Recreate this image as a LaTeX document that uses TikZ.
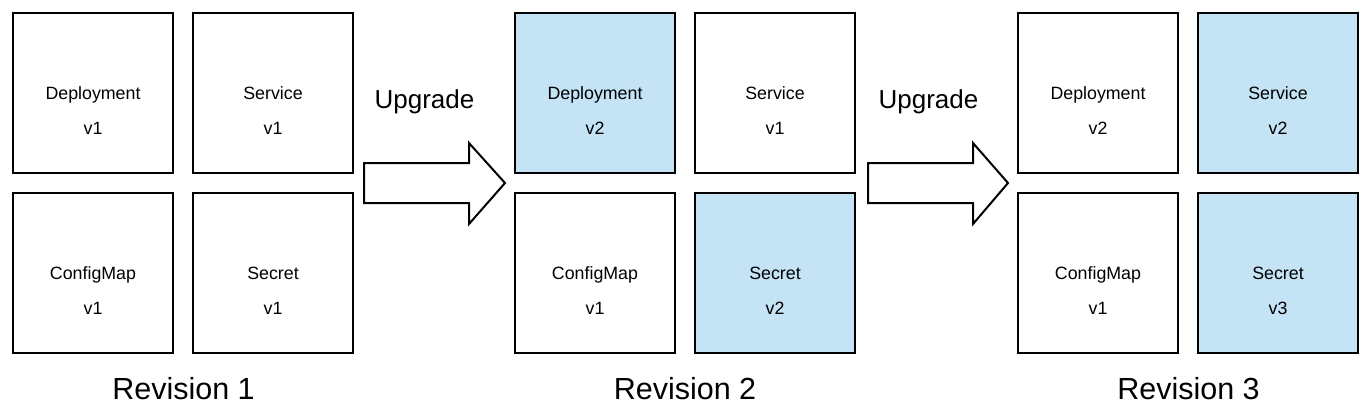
\documentclass[tikz,border=0pt]{standalone}
\usepackage{fontspec}
\setmainfont{Liberation Sans}
\definecolor{upd}{HTML}{C4E3F5}
\begin{document}
\begin{tikzpicture}[x=1bp,y=-1bp,
  box/.style={draw=black,line width=2bp,minimum width=160bp,minimum height=160bp,inner sep=0pt,fill=white},
  newbox/.style={box,fill=upd},
  txt/.style={anchor=base,inner sep=0pt,font=\fontsize{17.8bp}{20bp}\selectfont},
  upg/.style={anchor=base,inner sep=0pt,font=\fontsize{26bp}{30bp}\selectfont},
  rev/.style={anchor=base,inner sep=0pt,font=\fontsize{30.5bp}{36bp}\selectfont},
  bigarrow/.style={draw=black,line width=2bp,fill=white,line join=miter}]
\useasboundingbox (0,0) rectangle (1372,414);
\newcommand{\resbox}[5]{%
  \node[#1] (#2) at (#3) {};
  \node[txt] (#2a) at ([yshift=-6bp]#2.center) {#4};
  \node[txt] (#2b) at ([yshift=-41bp]#2.center) {#5};}
% Revision 1
\resbox{box}{dA}{93,93}{Deployment}{v1}
\resbox{box}{sA}{273,93}{Service}{v1}
\resbox{box}{cA}{93,273}{ConfigMap}{v1}
\resbox{box}{xA}{273,273}{Secret}{v1}
% Revision 2
\resbox{newbox}{dB}{595,93}{Deployment}{v2}
\resbox{box}{sB}{775,93}{Service}{v1}
\resbox{box}{cB}{595,273}{ConfigMap}{v1}
\resbox{newbox}{xB}{775,273}{Secret}{v2}
% Revision 3
\resbox{box}{dC}{1098,93}{Deployment}{v2}
\resbox{newbox}{sC}{1278,93}{Service}{v2}
\resbox{box}{cC}{1098,273}{ConfigMap}{v1}
\resbox{newbox}{xC}{1278,273}{Secret}{v3}
% arrows
\draw[bigarrow] (364,163) -- (469,163) -- (469,143) -- (505,183) -- (469,224) -- (469,203) -- (364,203) -- cycle;
\draw[bigarrow] (868,163) -- (973,163) -- (973,143) -- (1008,183) -- (973,224) -- (973,203) -- (868,203) -- cycle;
\node[upg] (u1) at (424.5,108) {Upgrade};
\node[upg] (u2) at (928.5,108) {Upgrade};
% revision labels
\node[rev] (r1) at (183.5,399) {Revision 1};
\node[rev] (r2) at (685,399) {Revision 2};
\node[rev] (r3) at (1188.5,399) {Revision 3};
\end{tikzpicture}
\end{document}
